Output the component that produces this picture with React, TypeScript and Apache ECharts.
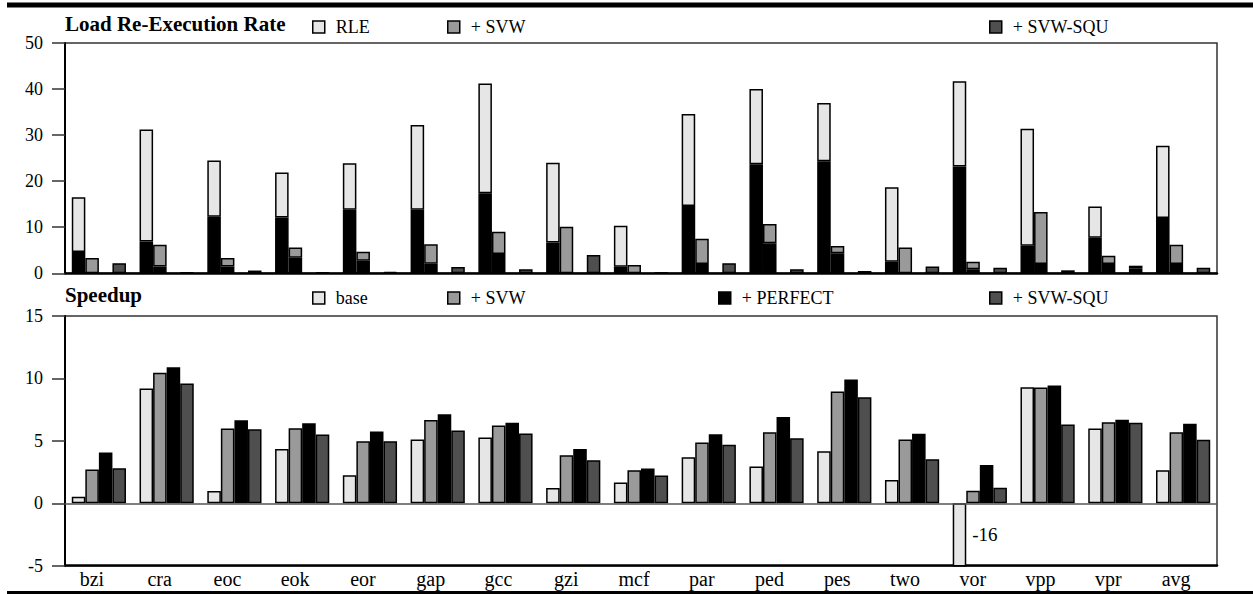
import React, { useEffect, useRef } from "react";
import * as echarts from "echarts";

const categories = ["bzi", "cra", "eoc", "eok", "eor", "gap", "gcc", "gzi", "mcf", "par", "ped", "pes", "two", "vor", "vpp", "vpr", "avg"];

// Load Re-Execution Rate: bar totals and the black lower part of each bar
const rleTotal = [16.5, 31.2, 24.5, 21.9, 23.9, 32.2, 41.2, 24.0, 10.3, 34.6, 40.0, 37.0, 18.7, 41.7, 31.4, 14.5, 27.7];
const rleBlack = [4.6, 6.9, 12.3, 12.1, 13.8, 13.8, 17.4, 6.7, 1.4, 14.6, 23.7, 24.3, 2.5, 23.2, 6.0, 7.7, 12.0];
const svwTotal = [3.3, 6.2, 3.3, 5.6, 4.7, 6.3, 9.0, 10.1, 1.8, 7.5, 10.7, 5.9, 5.6, 2.5, 13.3, 3.8, 6.2];
const svwBlack = [0, 1.45, 1.45, 3.4, 2.7, 2.1, 4.2, 0, 0, 2.0, 6.5, 4.35, 0, 0.9, 2.0, 2.0, 2.0];
const squTotal = [2.2, 0.2, 0.6, 0.2, 0.3, 1.35, 0.9, 4.0, 0.15, 2.2, 0.9, 0.5, 1.45, 1.2, 0.65, 1.65, 1.2];
const squBlack = [0, 0, 0, 0, 0, 0, 0, 0, 0, 0, 0, 0, 0, 0, 0, 1.1, 0];

// Speedup
const speedBase = [0.53, 9.2, 0.99, 4.35, 2.24, 5.1, 5.26, 1.23, 1.66, 3.69, 2.94, 4.17, 1.87, -16, 9.3, 5.98, 2.65];
const speedSvw = [2.7, 10.45, 5.98, 6.0, 4.97, 6.68, 6.22, 3.85, 2.65, 4.86, 5.69, 8.95, 5.1, 1.01, 9.27, 6.49, 5.69];
const speedPerfect = [4.06, 10.9, 6.65, 6.4, 5.74, 7.13, 6.44, 4.35, 2.78, 5.53, 6.92, 9.91, 5.56, 3.07, 9.43, 6.7, 6.36];
const speedSqu = [2.8, 9.6, 5.93, 5.5, 4.97, 5.82, 5.58, 3.45, 2.22, 4.68, 5.21, 8.5, 3.53, 1.25, 6.3, 6.44, 5.08];

const topYTicks = [0, 50, 10];
const bottomYTicks = [-5, 15, 5];

const C_LIGHT = "#e6e6e6";
const C_GRAY = "#9a9a9a";
const C_DARK = "#4f4f4f";
const C_BLACK = "#000000";
const FONT = "Liberation Serif";

export default function App() {
  const ref = useRef<HTMLDivElement>(null);

  useEffect(() => {
    document.body.style.margin = "0";
    if (!ref.current) return;
    const chart = echarts.init(ref.current, null, { renderer: "svg" });

    const barCommon = {
      type: "bar",
      barGap: "0%",
      barCategoryGap: "20%",
      clip: true,
      silent: true,
    };
    const border = { borderColor: "#000", borderWidth: 1.5 };

    const minus = (a: number[], b: number[]) => a.map((v, i) => +(v - b[i]).toFixed(3));

    const yAxisCommon = {
      type: "value",
      axisLine: { show: true, lineStyle: { color: "#000", width: 2 } },
      axisTick: { show: true, inside: false, length: 13, lineStyle: { color: "#333", width: 1.5 } },
      axisLabel: { color: "#000", fontFamily: FONT, fontSize: 18, margin: 22 },
      splitLine: { show: false },
    };

    const legendCommon = {
      selectedMode: false,
      padding: 0,
      itemWidth: 12,
      itemHeight: 12,
      icon: "rect",
      itemStyle: { borderColor: "#000", borderWidth: 1.5 },
      textStyle: { fontFamily: FONT, fontSize: 18, color: "#000", padding: [0, 0, 0, 6] },
    };

    const titleStyle = { fontFamily: FONT, fontWeight: "bold", fontSize: 21, color: "#000" };

    const option: any = {
      animation: false,
      title: [
        { text: "Load Re-Execution Rate", left: 65, top: 13, padding: 0, textStyle: titleStyle },
        { text: "Speedup", left: 65, top: 284, padding: 0, textStyle: titleStyle },
      ],
      legend: [
        { ...legendCommon, data: ["RLE"], left: 312, top: 18 },
        { ...legendCommon, data: ["+ SVW"], left: 447, top: 18 },
        { ...legendCommon, data: ["+ SVW-SQU"], left: 989, top: 18 },
        { ...legendCommon, data: ["base"], left: 312, top: 289 },
        { ...legendCommon, data: ["+ SVW "], left: 447, top: 289 },
        { ...legendCommon, data: ["+ PERFECT"], left: 718, top: 289 },
        { ...legendCommon, data: ["+ SVW-SQU "], left: 989, top: 289 },
      ],
      grid: [
        { left: 65, right: 36, top: 43, height: 230.3, show: true, borderColor: "#333", borderWidth: 1.5, backgroundColor: "transparent" },
        { left: 65, right: 36, top: 316, height: 249.7, show: true, borderColor: "#333", borderWidth: 1.5, backgroundColor: "transparent" },
      ],
      xAxis: [
        {
          type: "category", gridIndex: 0, data: categories,
          axisLine: { show: true, lineStyle: { color: "#000", width: 2.5 } },
          axisTick: { show: false }, axisLabel: { show: false },
        },
        {
          type: "category", gridIndex: 1, data: categories, position: "bottom",
          axisLine: { show: true, onZero: false, lineStyle: { color: "#000", width: 2.5 } },
          axisTick: { show: false },
          axisLabel: { color: "#000", fontFamily: FONT, fontSize: 20, margin: 3, padding: [0, 14, 0, 0] },
        },
      ],
      yAxis: [
        { ...yAxisCommon, gridIndex: 0, min: topYTicks[0], max: topYTicks[1], interval: topYTicks[2] },
        { ...yAxisCommon, gridIndex: 1, min: bottomYTicks[0], max: bottomYTicks[1], interval: bottomYTicks[2] },
      ],
      series: [
        { ...barCommon, name: "RLE black", xAxisIndex: 0, yAxisIndex: 0, stack: "rle", data: rleBlack, itemStyle: { color: C_BLACK, ...border } },
        { ...barCommon, name: "RLE", xAxisIndex: 0, yAxisIndex: 0, stack: "rle", data: minus(rleTotal, rleBlack), itemStyle: { color: C_LIGHT, ...border } },
        { ...barCommon, name: "SVW black", xAxisIndex: 0, yAxisIndex: 0, stack: "svw", data: svwBlack, itemStyle: { color: C_BLACK, ...border } },
        { ...barCommon, name: "+ SVW", xAxisIndex: 0, yAxisIndex: 0, stack: "svw", data: minus(svwTotal, svwBlack), itemStyle: { color: C_GRAY, ...border } },
        { ...barCommon, name: "slot", xAxisIndex: 0, yAxisIndex: 0, stack: "slot", data: categories.map(() => null), itemStyle: { color: "transparent" } },
        { ...barCommon, name: "SQU black", xAxisIndex: 0, yAxisIndex: 0, stack: "squ", data: squBlack, itemStyle: { color: C_BLACK, ...border } },
        { ...barCommon, name: "+ SVW-SQU", xAxisIndex: 0, yAxisIndex: 0, stack: "squ", data: minus(squTotal, squBlack), itemStyle: { color: C_DARK, ...border } },

        {
          ...barCommon, name: "base", xAxisIndex: 1, yAxisIndex: 1, data: speedBase, itemStyle: { color: C_LIGHT, ...border },
          markLine: { silent: true, symbol: "none", label: { show: false }, lineStyle: { color: "#555", width: 1.5, type: "solid" }, data: [{ yAxis: 0 }] },
        },
        { ...barCommon, name: "+ SVW ", xAxisIndex: 1, yAxisIndex: 1, data: speedSvw, itemStyle: { color: C_GRAY, ...border } },
        { ...barCommon, name: "+ PERFECT", xAxisIndex: 1, yAxisIndex: 1, data: speedPerfect, itemStyle: { color: C_BLACK, ...border } },
        { ...barCommon, name: "+ SVW-SQU ", xAxisIndex: 1, yAxisIndex: 1, data: speedSqu, itemStyle: { color: C_DARK, ...border } },
      ],
      graphic: [
        { type: "rect", id: "ruleTop", shape: { x: 7, y: 2.5, width: 1246, height: 5 }, style: { fill: "#000" } },
        { type: "rect", id: "ruleBottom", shape: { x: 7, y: 591, width: 1246, height: 4 }, style: { fill: "#000" } },
      ],
    };

    chart.setOption(option);

    // label for the clipped negative value
    const idx = speedBase.findIndex((v) => v < bottomYTicks[0]);
    if (idx >= 0) {
      const pCenter = chart.convertToPixel({ xAxisIndex: 1, yAxisIndex: 1 } as any, [idx, bottomYTicks[0] / 2]) as number[];
      const left = chart.convertToPixel({ xAxisIndex: 1 } as any, 0) as number;
      const right = chart.convertToPixel({ xAxisIndex: 1 } as any, 1) as number;
      const catW = right - left;
      const barW = (catW * 0.8) / 4;
      chart.setOption({
        graphic: [
          {
            type: "text", id: "negLabel",
            x: pCenter[0] - barW + 6, y: pCenter[1],
            style: { text: String(speedBase[idx]), fontFamily: FONT, fontSize: 19, fill: "#000", textVerticalAlign: "middle", verticalAlign: "middle" },
          },
        ],
      });
    }

    return () => chart.dispose();
  }, []);

  return <div ref={ref} style={{ width: 1253, height: 594 }} />;
}
